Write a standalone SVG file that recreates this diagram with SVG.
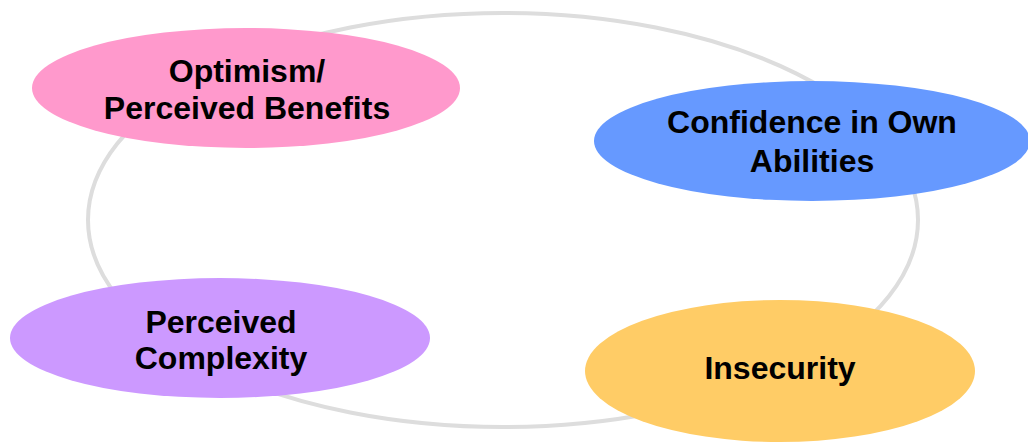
<svg xmlns="http://www.w3.org/2000/svg" width="1028" height="443" viewBox="0 0 1028 443">
<style>
.lbl{font-family:"Liberation Sans",Arial,sans-serif;font-weight:bold;font-size:32px;fill:#000;text-anchor:middle}
.ring{fill:none;stroke:#DDDDDD;stroke-width:4}
</style>
<rect width="1028" height="443" fill="#fff"/>
<g id="connectors">
<ellipse class="ring" cx="503" cy="220" rx="415" ry="207"/>
</g>
<g id="optimism">
<ellipse cx="246" cy="88" rx="214" ry="60" fill="#FF99CC"/>
<text class="lbl" x="247" y="82">Optimism/</text>
<text class="lbl" x="247" y="119">Perceived Benefits</text>
</g>
<g id="confidence">
<ellipse cx="812" cy="141" rx="218" ry="60" fill="#6699FF"/>
<text class="lbl" x="812" y="133">Confidence in Own</text>
<text class="lbl" x="812" y="172">Abilities</text>
</g>
<g id="complexity">
<ellipse cx="220" cy="338" rx="210" ry="60" fill="#CC99FF"/>
<text class="lbl" x="221" y="333">Perceived</text>
<text class="lbl" x="221" y="369">Complexity</text>
</g>
<g id="insecurity">
<ellipse cx="780" cy="371" rx="195" ry="71" fill="#FFCC66"/>
<text class="lbl" x="780" y="379">Insecurity</text>
</g>
</svg>
